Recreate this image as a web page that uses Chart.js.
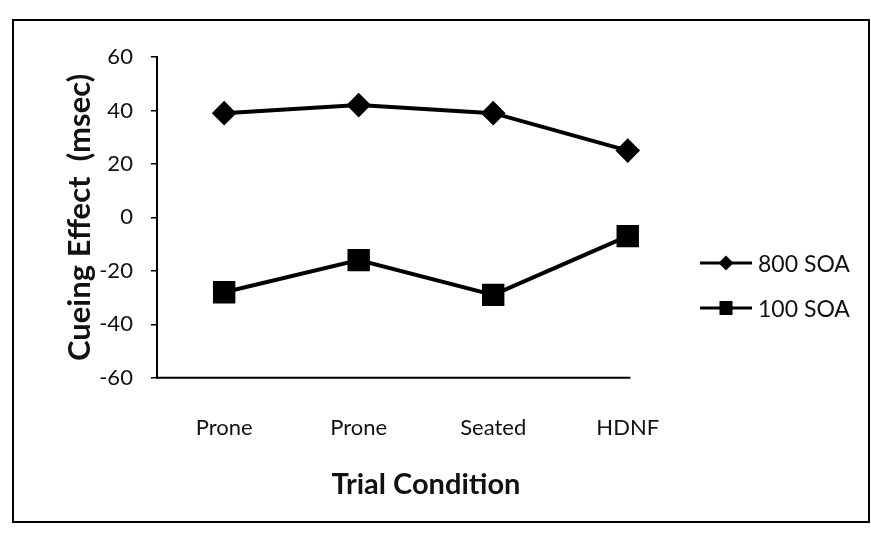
<!DOCTYPE html>
<html lang="en">
<head>
    <meta charset="UTF-8">
    <title>Cueing Effect by Trial Condition</title>
    <style>
        html, body {
            margin: 0;
            padding: 0;
            background-color: #ffffff;
        }

        #chart-box {
            width: 871px;
            height: 533px;
            position: relative;
        }

        #legend {
            position: absolute;
            left: 700px;
            top: 240px;
            margin: 0;
            padding: 0;
            list-style: none;
            font-family: Lato, "Open Sans", sans-serif;
            font-size: 23px;
            color: #111;
        }

        #legend li {
            display: flex;
            align-items: center;
            height: 45px;
        }

        #legend canvas {
            margin-right: 6px;
        }
    </style>
    <script src="https://cdn.jsdelivr.net/npm/chart.js"></script>
</head>
<body>
    <div id="chart-box">
        <canvas id="cueingChart"></canvas>
        <ul id="legend"></ul>
    </div>

    <script>
        // values
        const conditions = ['Prone', 'Prone', 'Seated', 'HDNF'];
        const soa800 = [39, 42, 39, 25];
        const soa100 = [-28, -16, -29, -7];
        const yTicks = [-60, -40, -20, 0, 20, 40, 60];

        const FONT = 'Lato, "Open Sans", sans-serif';
        const AXIS_END = 3.02; // the drawn x axis stops just past the last category

        // legend symbol: short line with the marker in its middle
        function legendSymbol(shape) {
            const c = document.createElement('canvas');
            c.width = 52;
            c.height = 20;
            const ctx = c.getContext('2d');
            ctx.strokeStyle = '#000';
            ctx.fillStyle = '#000';
            ctx.lineWidth = 3;
            ctx.beginPath();
            ctx.moveTo(0, 10);
            ctx.lineTo(52, 10);
            ctx.stroke();
            ctx.beginPath();
            if (shape === 'rectRot') {
                ctx.moveTo(26, 2.5);
                ctx.lineTo(33.5, 10);
                ctx.lineTo(26, 17.5);
                ctx.lineTo(18.5, 10);
            } else {
                ctx.rect(19.5, 3, 13, 14);
            }
            ctx.fill();
            return c;
        }

        // white page + frame round the whole figure
        const frame = {
            id: 'frame',
            beforeDraw(chart) {
                const ctx = chart.ctx;
                ctx.save();
                ctx.fillStyle = '#ffffff';
                ctx.fillRect(0, 0, chart.width, chart.height);
                ctx.strokeStyle = '#000';
                ctx.lineWidth = 2;
                ctx.strokeRect(13, 20, 856, 502);
                ctx.restore();
            }
        };

        // x axis line, only as far as the last category
        const xAxisLine = {
            id: 'xAxisLine',
            beforeDatasetsDraw(chart) {
                const { ctx, chartArea, scales } = chart;
                ctx.save();
                ctx.strokeStyle = '#000';
                ctx.lineWidth = 2;
                ctx.beginPath();
                ctx.moveTo(chartArea.left - 1, chartArea.bottom);
                ctx.lineTo(scales.x.getPixelForValue(AXIS_END), chartArea.bottom);
                ctx.stroke();
                ctx.restore();
            }
        };

        // legend built as html from the datasets
        const htmlLegend = {
            id: 'htmlLegend',
            afterUpdate(chart) {
                const list = document.getElementById('legend');
                list.innerHTML = '';
                chart.data.datasets.forEach(ds => {
                    const li = document.createElement('li');
                    li.appendChild(legendSymbol(ds.pointStyle));
                    const span = document.createElement('span');
                    span.textContent = ds.label;
                    li.appendChild(span);
                    list.appendChild(li);
                });
            }
        };

        const chart = new Chart(document.getElementById('cueingChart').getContext('2d'), {
            type: 'line',
            data: {
                datasets: [
                    {
                        label: '800 SOA',
                        data: soa800.map((v, i) => ({ x: i, y: v })),
                        borderColor: '#000',
                        backgroundColor: '#000',
                        borderWidth: 4,
                        pointStyle: 'rectRot',
                        pointRadius: 9.5,
                        pointHoverRadius: 9.5,
                        clip: false
                    },
                    {
                        label: '100 SOA',
                        data: soa100.map((v, i) => ({ x: i, y: v })),
                        borderColor: '#000',
                        backgroundColor: '#000',
                        borderWidth: 4,
                        pointStyle: 'rect',
                        pointRadius: 13,
                        pointHoverRadius: 13,
                        clip: false
                    }
                ]
            },
            options: {
                responsive: true,
                maintainAspectRatio: false,
                animation: false,
                layout: { padding: { top: 57, left: 61, right: 176, bottom: 27 } },
                plugins: {
                    tooltip: { enabled: false },
                    legend: { display: false }
                },
                scales: {
                    x: {
                        type: 'linear',
                        min: -0.5,
                        max: 3.5,
                        afterBuildTicks(scale) {
                            scale.ticks = conditions.map((c, i) => ({ value: i }));
                        },
                        grid: { display: false, drawTicks: false },
                        border: { display: false },
                        ticks: {
                            padding: 37,
                            color: '#111',
                            font: { family: FONT, size: 22 },
                            callback: (v) => conditions[v]
                        },
                        title: {
                            display: true,
                            text: 'Trial Condition',
                            color: '#111',
                            font: { family: FONT, size: 29, weight: 'bold' },
                            padding: { top: -11, bottom: 4 }
                        }
                    },
                    y: {
                        min: -60,
                        max: 60,
                        afterBuildTicks(scale) {
                            scale.ticks = yTicks.map(v => ({ value: v }));
                        },
                        grid: {
                            display: true,
                            drawOnChartArea: false,
                            drawTicks: true,
                            tickLength: 6,
                            color: '#000',
                            lineWidth: 1.5
                        },
                        border: { display: true, color: '#000', width: 2 },
                        ticks: {
                            padding: 18,
                            color: '#111',
                            font: { family: FONT, size: 22 }
                        },
                        title: {
                            display: true,
                            text: 'Cueing Effect  (msec)',
                            color: '#111',
                            font: { family: FONT, size: 31, weight: 'bold' },
                            padding: { top: 0, bottom: -17 }
                        }
                    }
                }
            },
            plugins: [frame, xAxisLine, htmlLegend]
        });
    </script>
</body>
</html>
